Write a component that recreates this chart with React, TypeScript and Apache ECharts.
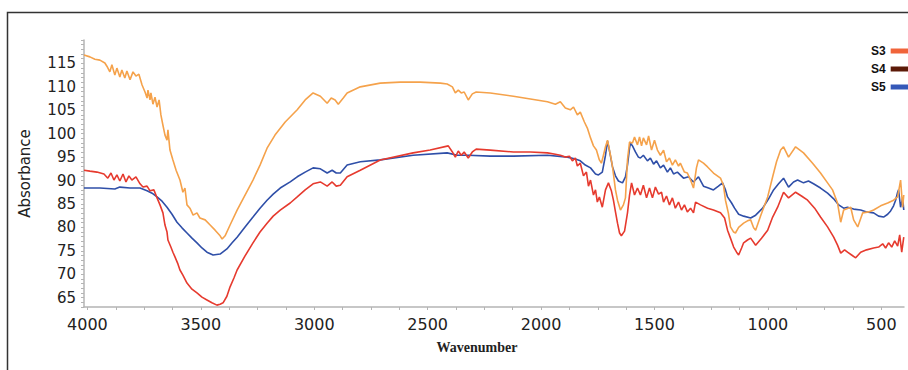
import React, { useEffect, useRef } from "react";
import * as echarts from "echarts";

// Wavenumber tick labels and y tick labels
const xLabelValues = [4000, 3500, 3000, 2500, 2000, 1500, 1000, 500];
const xTickValues = [
  4000, 3875, 3750, 3625, 3500, 3375, 3250, 3125, 3000, 2875, 2750, 2625, 2500,
  2375, 2250, 2125, 2000, 1875, 1750, 1625, 1500, 1375, 1250, 1125, 1000, 875,
  750, 625, 500,
];
const yLabelValues = [65, 70, 75, 80, 85, 90, 95, 100, 105, 110, 115];
const yTickValues = Array.from({ length: 58 }, (_, i) => 63 + i);

const seriesNames = ["S3", "S4", "S5"];
const lineColors = ["#f5a24b", "#e63a2e", "#2f4fa8"];
const legendColors = ["#f0643a", "#5c1a08", "#3558b8"];

// S3 (orange trace): [wavenumber, absorbance]
const s3Data: [number, number][] = [
  [4015, 116.8], [3989, 116.4], [3967, 115.9], [3945, 115.7], [3923, 115.1], [3914, 114.4],
  [3901, 113.2], [3892, 114.7], [3879, 112.5], [3870, 114.0], [3857, 112.1], [3848, 113.6],
  [3835, 111.9], [3826, 113.4], [3812, 111.5], [3799, 113.2], [3786, 112.3], [3773, 112.7],
  [3759, 110.4], [3746, 108.9], [3737, 107.6], [3733, 109.3], [3724, 107.2], [3720, 108.7],
  [3711, 106.3], [3702, 107.8], [3693, 105.7], [3684, 107.2], [3676, 104.0], [3667, 101.8],
  [3658, 99.7], [3649, 98.6], [3645, 100.8], [3636, 96.5], [3623, 94.4], [3609, 92.2],
  [3592, 90.1], [3579, 87.5], [3570, 88.4], [3561, 84.8], [3548, 84.1], [3534, 82.6],
  [3517, 83.1], [3504, 82.0], [3481, 81.6], [3459, 80.5], [3437, 79.4], [3415, 78.2],
  [3406, 77.5], [3393, 78.2], [3371, 80.5], [3340, 83.7], [3305, 86.9], [3270, 90.1],
  [3239, 93.3], [3208, 96.9], [3173, 99.7], [3128, 102.5], [3075, 105.1], [3040, 107.2],
  [3005, 108.7], [2973, 108.0], [2943, 106.5], [2925, 107.6], [2908, 107.2], [2894, 106.3],
  [2872, 107.6], [2855, 108.7], [2797, 110.0], [2709, 110.8], [2621, 111.0], [2533, 111.0],
  [2444, 110.8], [2414, 110.6], [2391, 110.0], [2378, 108.7], [2365, 109.3], [2352, 108.7],
  [2339, 108.9], [2321, 107.2], [2303, 108.5], [2286, 108.9], [2224, 108.7], [2122, 108.0],
  [2047, 107.4], [1972, 106.8], [1937, 106.3], [1915, 106.8], [1893, 105.5], [1871, 105.1],
  [1857, 105.7], [1840, 104.0], [1827, 104.6], [1809, 102.5], [1796, 101.2], [1782, 99.1],
  [1769, 97.4], [1756, 96.5], [1743, 94.4], [1734, 93.7], [1725, 95.4], [1716, 97.2],
  [1707, 98.6], [1694, 95.4], [1685, 92.9], [1672, 88.0], [1663, 85.8], [1650, 83.7],
  [1637, 84.8], [1628, 86.3], [1619, 94.4], [1610, 98.2], [1597, 98.0], [1588, 99.3],
  [1575, 97.6], [1566, 99.3], [1557, 97.4], [1549, 99.1], [1535, 97.6], [1526, 99.5],
  [1513, 96.5], [1500, 98.6], [1487, 96.5], [1474, 95.4], [1460, 96.5], [1447, 94.0],
  [1434, 94.8], [1421, 93.3], [1408, 94.4], [1394, 93.1], [1386, 93.7], [1368, 91.8],
  [1355, 91.6], [1341, 90.1], [1328, 88.4], [1315, 92.7], [1306, 94.4], [1284, 93.7],
  [1266, 92.9], [1240, 91.6], [1209, 90.5], [1196, 89.0], [1187, 85.8], [1174, 83.0],
  [1165, 80.1], [1151, 79.0], [1143, 78.8], [1129, 80.0], [1107, 80.9], [1090, 81.4],
  [1076, 81.6], [1063, 79.9], [1054, 79.4], [1032, 82.5], [1001, 86.5], [979, 90.8],
  [962, 94.0], [944, 96.5], [931, 97.2], [909, 95.0], [878, 97.2], [843, 95.9],
  [803, 93.7], [768, 91.6], [737, 89.5], [715, 88.0], [693, 85.2], [679, 81.1],
  [666, 83.7], [635, 84.3], [622, 81.6], [604, 80.1], [582, 83.1], [556, 83.3],
  [534, 83.7], [503, 84.6], [472, 85.2], [446, 85.8], [428, 86.5], [415, 90.1],
  [406, 84.3], [401, 86.9],
];

// S4 (red trace)
const s4Data: [number, number][] = [
  [4015, 92.2], [3989, 92.0], [3958, 91.8], [3927, 91.4], [3910, 90.5], [3896, 91.6],
  [3883, 90.1], [3870, 91.2], [3857, 89.9], [3843, 91.4], [3830, 89.7], [3817, 91.0],
  [3804, 90.1], [3786, 90.8], [3768, 89.3], [3755, 88.6], [3737, 88.8], [3724, 87.8],
  [3707, 88.0], [3693, 86.3], [3680, 84.8], [3667, 83.1], [3658, 80.5], [3649, 79.0],
  [3645, 77.3], [3632, 75.8], [3623, 74.7], [3614, 73.7], [3601, 72.2], [3592, 70.9],
  [3579, 69.8], [3561, 68.1], [3539, 66.8], [3517, 66.0], [3495, 65.1], [3473, 64.5],
  [3451, 63.9], [3429, 63.4], [3415, 63.6], [3402, 63.9], [3385, 65.3], [3371, 67.3],
  [3354, 69.2], [3340, 70.9], [3305, 73.9], [3270, 76.7], [3239, 79.0], [3208, 80.9],
  [3181, 82.4], [3150, 83.7], [3106, 85.2], [3075, 86.5], [3040, 88.0], [3005, 89.3],
  [2973, 89.7], [2943, 88.8], [2921, 89.7], [2903, 88.8], [2885, 89.0], [2855, 90.8],
  [2797, 92.2], [2709, 94.4], [2564, 95.9], [2489, 96.5], [2409, 97.4], [2391, 96.1],
  [2378, 95.0], [2365, 96.3], [2352, 95.4], [2339, 96.1], [2321, 94.8], [2303, 96.1],
  [2286, 96.7], [2224, 96.5], [2122, 96.1], [2047, 96.1], [1972, 95.9], [1937, 95.6],
  [1915, 95.4], [1893, 95.0], [1875, 95.2], [1862, 94.2], [1849, 94.8], [1840, 93.1],
  [1827, 93.7], [1813, 91.0], [1800, 91.8], [1791, 88.8], [1782, 90.1], [1769, 86.9],
  [1760, 88.0], [1752, 85.4], [1743, 86.5], [1730, 84.3], [1716, 88.0], [1703, 89.5],
  [1690, 87.8], [1681, 85.8], [1672, 83.3], [1663, 80.9], [1654, 78.8], [1646, 78.2],
  [1632, 79.2], [1619, 83.1], [1610, 86.9], [1601, 89.5], [1588, 86.9], [1575, 88.4],
  [1562, 86.9], [1549, 89.0], [1535, 86.3], [1522, 88.4], [1509, 86.3], [1496, 88.6],
  [1482, 87.1], [1469, 87.5], [1460, 85.4], [1447, 86.7], [1434, 84.8], [1421, 86.3],
  [1408, 84.1], [1394, 85.4], [1381, 83.7], [1368, 84.8], [1355, 83.3], [1341, 84.1],
  [1328, 83.1], [1319, 85.4], [1297, 84.8], [1266, 84.1], [1240, 83.7], [1209, 83.1],
  [1191, 82.0], [1178, 79.4], [1165, 77.7], [1151, 75.8], [1138, 74.7], [1129, 74.1],
  [1116, 75.6], [1107, 76.7], [1090, 77.3], [1076, 77.7], [1054, 76.2], [1028, 77.7],
  [1001, 79.4], [979, 82.2], [957, 84.3], [931, 87.5], [909, 86.3], [878, 87.5],
  [852, 86.7], [825, 85.8], [794, 84.1], [768, 82.2], [737, 80.1], [710, 77.9],
  [693, 76.2], [679, 74.5], [662, 75.2], [649, 74.7], [631, 74.1], [613, 73.5],
  [591, 74.7], [565, 75.2], [534, 75.6], [512, 75.8], [494, 76.5], [481, 75.6],
  [468, 76.7], [454, 75.8], [441, 77.1], [428, 76.0], [419, 78.4], [410, 74.7],
  [401, 77.9],
];

// S5 (blue trace)
const s5Data: [number, number][] = [
  [4015, 88.4], [3945, 88.4], [3879, 88.2], [3857, 88.6], [3812, 88.4], [3768, 88.4],
  [3737, 87.8], [3715, 87.3], [3693, 86.5], [3671, 85.6], [3649, 84.3], [3627, 82.8],
  [3605, 81.1], [3583, 79.9], [3561, 78.8], [3539, 77.7], [3517, 76.7], [3495, 75.6],
  [3473, 74.7], [3446, 74.1], [3415, 74.3], [3385, 75.4], [3362, 76.7], [3340, 77.9],
  [3305, 80.1], [3270, 82.2], [3239, 84.1], [3208, 85.8], [3181, 87.1], [3150, 88.4],
  [3106, 89.7], [3075, 90.8], [3040, 91.8], [3005, 92.7], [2973, 92.5], [2943, 91.6],
  [2921, 92.2], [2903, 91.6], [2885, 91.6], [2855, 93.3], [2797, 94.0], [2709, 94.4],
  [2564, 95.4], [2414, 95.9], [2369, 95.4], [2321, 95.4], [2224, 95.2], [2122, 95.2],
  [1972, 95.4], [1884, 95.0], [1849, 94.6], [1827, 94.2], [1805, 93.3], [1782, 92.7],
  [1760, 91.4], [1747, 91.2], [1730, 91.8], [1716, 95.4], [1707, 98.4], [1699, 96.5],
  [1685, 92.9], [1672, 91.0], [1659, 89.9], [1641, 89.5], [1628, 90.8], [1619, 93.3],
  [1610, 96.9], [1606, 98.0], [1597, 97.4], [1584, 96.1], [1571, 95.0], [1562, 94.8],
  [1549, 95.4], [1531, 94.2], [1518, 94.8], [1504, 93.5], [1491, 94.2], [1474, 92.7],
  [1460, 93.3], [1443, 91.8], [1430, 92.7], [1416, 91.4], [1399, 91.8], [1372, 90.5],
  [1350, 90.8], [1328, 89.7], [1306, 90.8], [1284, 88.8], [1262, 88.4], [1240, 88.0],
  [1218, 88.8], [1200, 89.5], [1187, 88.0], [1178, 86.5], [1160, 85.2], [1147, 84.1],
  [1129, 82.8], [1107, 82.4], [1076, 82.0], [1054, 82.6], [1023, 84.1], [997, 86.1],
  [975, 88.0], [953, 89.3], [931, 90.5], [909, 88.6], [887, 89.7], [869, 90.1],
  [843, 89.5], [821, 89.9], [799, 89.3], [768, 88.4], [737, 87.3], [710, 86.1],
  [688, 84.8], [666, 84.1], [649, 84.3], [622, 83.9], [591, 83.7], [565, 83.3],
  [534, 83.1], [512, 82.4], [490, 82.2], [472, 82.8], [459, 83.5], [446, 84.6],
  [437, 85.8], [428, 87.5], [424, 88.0], [415, 84.3], [406, 86.3], [401, 83.7],
];

const allData = [s3Data, s4Data, s5Data];

export default function App() {
  const ref = useRef<HTMLDivElement>(null);
  useEffect(() => {
    if (!ref.current) return;
    const chart = echarts.init(ref.current, null, { renderer: "svg" });
    const axisGray = "#b4b4b4";
    chart.setOption({
      animation: false,
      backgroundColor: "#ffffff",
      grid: { left: 84, right: 4, top: 40, bottom: 63, outerBoundsMode: "none" },
      legend: {
        orient: "vertical",
        left: 866,
        top: 40,
        itemWidth: 22,
        itemHeight: 5,
        itemGap: 6,
        align: "right",
        icon: "rect",
        textStyle: {
          fontFamily: "Liberation Sans",
          fontWeight: "bold",
          fontSize: 12,
          color: "#111",
        },
        data: seriesNames.map((n, i) => ({
          name: n,
          itemStyle: { color: legendColors[i] },
        })),
      },
      xAxis: {
        type: "value",
        inverse: true,
        min: 400,
        max: 4015,
        name: "Wavenumber",
        nameLocation: "middle",
        nameGap: 33,
        nameTextStyle: {
          fontFamily: "Liberation Serif",
          fontWeight: "bold",
          fontSize: 14,
          color: "#222",
          padding: [0, 34, 0, 0],
        },
        splitLine: { show: false },
        axisLine: { show: true, lineStyle: { color: axisGray, width: 1.5 } },
        axisTick: {
          show: true,
          length: 3,
          customValues: xTickValues,
          lineStyle: { color: axisGray },
        },
        axisLabel: {
          customValues: xLabelValues,
          margin: 9,
          fontFamily: "DejaVu Sans",
          fontSize: 16,
          color: "#222",
          formatter: (v: number) => String(v),
        },
      },
      yAxis: {
        type: "value",
        min: 63,
        max: 120,
        name: "Absorbance",
        nameLocation: "middle",
        nameRotate: 90,
        nameGap: 52,
        nameTextStyle: {
          fontFamily: "DejaVu Sans",
          fontSize: 15,
          color: "#222",
        },
        splitLine: { show: false },
        axisLine: { show: true, lineStyle: { color: axisGray, width: 1.5 } },
        axisTick: {
          show: true,
          length: 3,
          customValues: yTickValues,
          lineStyle: { color: axisGray },
        },
        axisLabel: {
          customValues: yLabelValues,
          margin: 8,
          fontFamily: "DejaVu Sans",
          fontSize: 15,
          color: "#222",
          formatter: (v: number) => String(v),
        },
      },
      graphic: [
        {
          type: "rect",
          silent: true,
          z: -1,
          shape: { x: 7.5, y: 12.5, width: 1000, height: 500 },
          style: { fill: "none", stroke: "#333", lineWidth: 1.5 },
        },
      ],
      series: seriesNames.map((n, i) => ({
        name: n,
        type: "line",
        data: allData[i],
        showSymbol: false,
        symbol: "none",
        lineStyle: { color: lineColors[i], width: 1.6 },
        itemStyle: { color: lineColors[i] },
        z: 3 - i,
      })),
    });
    return () => chart.dispose();
  }, []);
  return (
    <div
      ref={ref}
      style={{ position: "fixed", left: 0, top: 0, width: 908, height: 370 }}
    />
  );
}
